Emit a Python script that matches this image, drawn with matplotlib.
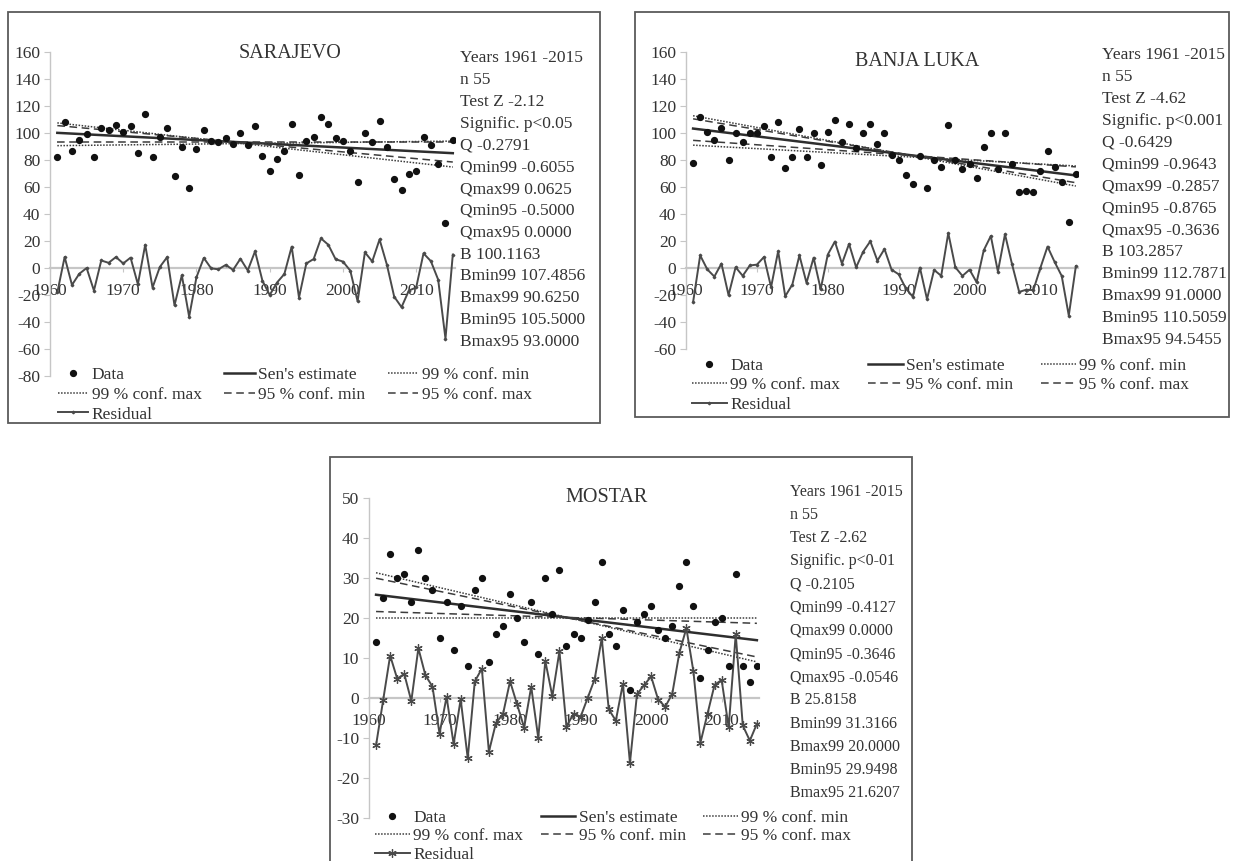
import matplotlib
matplotlib.use("Agg")
import matplotlib.pyplot as plt
from matplotlib.lines import Line2D
from matplotlib.patches import Rectangle
import numpy as np

plt.rcParams["font.family"] = ["Liberation Serif", "DejaVu Serif"]
plt.rcParams["axes.unicode_minus"] = False

W, H = 1236, 861

years = np.arange(1961, 2016)
decade_ticks = [1960, 1970, 1980, 1990, 2000, 2010]
decade_labels = ["1960", "1970", "1980", "1990", "2000", "2010"]

stat_names = ["Q", "Qmin99", "Qmax99", "Qmin95", "Qmax95",
              "B", "Bmin99", "Bmax99", "Bmin95", "Bmax95"]

# Sarajevo
sarajevo_values = [
    82, 108, 87, 95, 99, 82, 104, 102, 106, 101,
    105, 85, 114, 82, 97, 104, 68, 90, 59, 88,
    102, 94, 93, 96, 92, 100, 91, 105, 83, 72,
    81, 87, 107, 69, 94, 97, 112, 107, 96, 94,
    87, 64, 100, 93, 109, 90, 66, 58, 70, 72,
    97, 91, 77, 33, 95,
]
sarajevo_z = -2.12
sarajevo_signif = "p<0.05"
sarajevo_stats = [-0.2791, -0.6055, 0.0625, -0.5000, 0.0000,
                  100.1163, 107.4856, 90.6250, 105.5000, 93.0000]
sarajevo_yticks = list(range(-80, 161, 20))

# Banja Luka
banja_luka_values = [
    78, 112, 101, 95, 104, 80, 100, 93, 100, 100,
    105, 82, 108, 74, 82, 103, 82, 100, 76, 101,
    110, 93, 107, 89, 100, 107, 92, 100, 84, 80,
    69, 62, 83, 59, 80, 75, 106, 80, 73, 77,
    67, 90, 100, 73, 100, 77, 56, 57, 56, 72,
    87, 75, 64, 34, 70,
]
banja_luka_z = -4.62
banja_luka_signif = "p<0.001"
banja_luka_stats = [-0.6429, -0.9643, -0.2857, -0.8765, -0.3636,
                    103.2857, 112.7871, 91.0000, 110.5059, 94.5455]
banja_luka_yticks = list(range(-60, 161, 20))

# Mostar
mostar_values = [
    14, 25, 36, 30, 31, 24, 37, 30, 27, 15,
    24, 12, 23, 8, 27, 30, 9, 16, 18, 26,
    20, 14, 24, 11, 30, 21, 32, 13, 16, 15,
    19.5, 24, 34, 16, 13, 22, 2, 19, 21, 23,
    17, 15, 18, 28, 34, 23, 5, 12, 19, 20,
    8, 31, 8, 4, 8,
]
mostar_z = -2.62
mostar_signif = "p<0-01"
mostar_stats = [-0.2105, -0.4127, 0.0000, -0.3646, -0.0546,
                25.8158, 31.3166, 20.0000, 29.9498, 21.6207]
mostar_yticks = list(range(-30, 51, 10))

TEXT = "#333333"
AXIS = "#c6c6c6"
LINE = "#2e2e2e"
CONF = "#3c3c3c"
RESID = "#4a4a4a"
DOT = "#111111"


def px_rect(left, top, right, bottom):
    return [left / W, 1 - bottom / H, (right - left) / W, (bottom - top) / H]


def draw_panel(fig, name, values, stats, z_value, signif, yticks,
               axes_px, frame_px, title_px, text_px, text_step, text_size,
               legend_px, handle_len, col_space, row_space,
               resid_marker, resid_ms):
    s = dict(zip(stat_names, stats))
    t = years - years[0]
    values = np.array(values, dtype=float)

    sen = s["B"] + s["Q"] * t
    residual = values - sen

    # frame round the panel, kept above the white legend box
    l, top, r, b = frame_px
    fig.patches.append(Rectangle((l / W, 1 - b / H), (r - l) / W, (b - top) / H,
                                 transform=fig.transFigure, fill=False,
                                 edgecolor="#5a5a5a", linewidth=1.3, zorder=10))

    ax = fig.add_axes(px_rect(*axes_px))
    ax.set_facecolor("none")

    ax.plot(years, sen, color=LINE, lw=1.8, zorder=3)
    ax.plot(years, s["Bmin99"] + s["Qmin99"] * t, color=CONF, lw=1.1,
            ls=(0, (1, 1)), zorder=3)
    ax.plot(years, s["Bmax99"] + s["Qmax99"] * t, color=CONF, lw=1.1,
            ls=(0, (1, 1)), zorder=3)
    ax.plot(years, s["Bmin95"] + s["Qmin95"] * t, color=CONF, lw=1.1,
            ls=(0, (5, 3)), zorder=3)
    ax.plot(years, s["Bmax95"] + s["Qmax95"] * t, color=CONF, lw=1.1,
            ls=(0, (5, 3)), zorder=3)
    ax.plot(years, residual, color=RESID, lw=1.4, marker=resid_marker,
            ms=resid_ms, mew=0.9, zorder=4)
    ax.plot(years, values, "o", color=DOT, ms=4.2, zorder=5)

    ax.set_xlim(1960, 2015.3)
    ax.set_ylim(yticks[0], yticks[-1])
    ax.set_xticks(decade_ticks)
    ax.set_xticklabels(decade_labels)
    ax.set_yticks(yticks)

    for side in ("top", "right"):
        ax.spines[side].set_visible(False)
    ax.spines["left"].set_color(AXIS)
    ax.spines["left"].set_linewidth(1.0)
    ax.spines["bottom"].set_position(("data", 0))
    ax.spines["bottom"].set_color(AXIS)
    ax.spines["bottom"].set_linewidth(1.6)

    ax.tick_params(axis="y", direction="out", length=4, color=AXIS,
                   labelsize=12.5, labelcolor=TEXT, pad=3)
    ax.tick_params(axis="x", direction="out", length=3, color=AXIS,
                   labelsize=12.5, labelcolor=TEXT, pad=8)

    fig.text(title_px[0] / W, 1 - title_px[1] / H, name, ha="center",
             va="center", fontsize=14.5, color=TEXT)

    lines = [
        "Years {} -{}".format(years[0], years[-1]),
        "n {}".format(len(years)),
        "Test Z {:.2f}".format(z_value),
        "Signific. {}".format(signif),
    ] + ["{} {:.4f}".format(k, s[k]) for k in stat_names]
    for i, line in enumerate(lines):
        fig.text(text_px[0] / W, 1 - (text_px[1] + i * text_step) / H, line,
                 ha="left", va="center", fontsize=text_size, color=TEXT)

    h_data = Line2D([], [], color=DOT, marker="o", ms=4.2, ls="none")
    h_sen = Line2D([], [], color=LINE, lw=1.8)
    h_99 = Line2D([], [], color=CONF, lw=1.1, ls=(0, (1, 1)))
    h_95 = Line2D([], [], color=CONF, lw=1.1, ls=(0, (5, 3)))
    h_res = Line2D([], [], color=RESID, lw=1.4, marker=resid_marker,
                   ms=resid_ms, mew=0.9)

    # matplotlib fills legend columns first, so order for row-wise layout
    handles = [h_data, h_99, h_res, h_sen, h_95, h_99, h_95]
    labels = ["Data", "99 % conf. max", "Residual", "Sen's estimate",
              "95 % conf. min", "99 % conf. min", "95 % conf. max"]
    fig.legend(handles, labels, loc="upper left",
               bbox_to_anchor=(legend_px[0] / W, 1 - legend_px[1] / H),
               ncol=3, fontsize=12.5, frameon=True, facecolor="white",
               edgecolor="none", framealpha=1, fancybox=False,
               borderpad=0.2, borderaxespad=0, handlelength=handle_len,
               handletextpad=0.2, columnspacing=col_space,
               labelspacing=row_space, labelcolor=TEXT)
    return ax


fig = plt.figure(figsize=(W / 100, H / 100), dpi=100)
fig.patch.set_facecolor("white")

draw_panel(fig, "SARAJEVO", sarajevo_values, sarajevo_stats, sarajevo_z,
           sarajevo_signif, sarajevo_yticks,
           axes_px=(50, 52, 455, 376), frame_px=(8, 12, 600, 423),
           title_px=(290, 53), text_px=(460, 58), text_step=21.85,
           text_size=12.5, legend_px=(54.5, 363), handle_len=1.75,
           col_space=1.3, row_space=0.22, resid_marker="D", resid_ms=1.4)

draw_panel(fig, "BANJA LUKA", banja_luka_values, banja_luka_stats,
           banja_luka_z, banja_luka_signif, banja_luka_yticks,
           axes_px=(686, 52, 1078, 349), frame_px=(635, 12, 1229, 417),
           title_px=(917, 61), text_px=(1102, 55), text_step=21.9,
           text_size=12.5, legend_px=(688.5, 354), handle_len=2.0,
           col_space=1.6, row_space=0.2, resid_marker="D", resid_ms=1.4)

draw_panel(fig, "MOSTAR", mostar_values, mostar_stats, mostar_z,
           mostar_signif, mostar_yticks,
           axes_px=(369, 498, 759, 818), frame_px=(330, 457, 912, 880),
           title_px=(607, 497), text_px=(790, 492), text_step=23.15,
           text_size=11.5, legend_px=(371.5, 806), handle_len=2.0,
           col_space=1.0, row_space=0.15, resid_marker=(6, 2, 0),
           resid_ms=6)

fig.savefig("out.png", dpi=100)
